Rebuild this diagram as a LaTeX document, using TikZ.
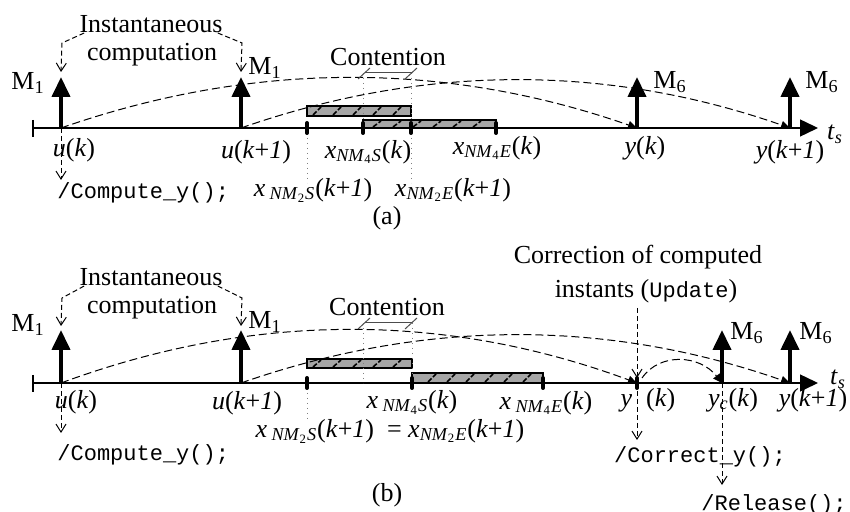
\documentclass[tikz,border=0pt]{standalone}
\usepackage{fontspec}
\setmainfont{Liberation Serif}
\setmonofont{Liberation Mono}
\usetikzlibrary{arrows.meta,calc}

\newcommand{\xnm}[3][]{\textit{x}#1\textsubscript{\textit{NM}\textsubscript{#2}\textit{#3}}}
\newcommand{\kk}{\textit{k}+\textit{1}}

\begin{document}
\begin{tikzpicture}[
  x=0.5pt, y=-0.5pt,
  lbl/.style={font=\fontsize{13}{15}\selectfont, inner sep=0pt},
  code/.style={font=\ttfamily\fontsize{11}{13}\selectfont, inner sep=0pt},
  axis/.style={line width=0.7pt, -{Triangle[length=9pt,width=8.5pt]}},
  marrow/.style={line width=2pt, -{Triangle[length=10pt,width=9pt]}},
  flow/.style={line width=0.5pt, dash pattern=on 4pt off 2pt, -{Triangle[length=4.5pt,width=4pt]}},
  note/.style={line width=0.5pt, dash pattern=on 2.5pt off 1.5pt, -{Straight Barb[length=4pt,width=5pt]}},
  guide/.style={line width=0.5pt, dotted, gray},
  bar/.style={draw, fill=black!35, line width=0.6pt},
  hatch/.style={line width=0.8pt, dash pattern=on 2.5pt off 1pt},
  tick/.style={line width=2pt, line cap=round},
  brace/.style={line width=0.5pt, black!70}
]
\useasboundingbox (0,0) rectangle (850,512);

% ---------------- (a) ----------------
\coordinate (a-o) at (33,128);
\coordinate (a-end) at (818,128);
\coordinate (a-uk) at (61,128);
\coordinate (a-uk1) at (241,128);
\coordinate (a-n2s) at (307,128);
\coordinate (a-n4s) at (363,128);
\coordinate (a-n2e) at (411,128);
\coordinate (a-n4e) at (496,128);
\coordinate (a-yk) at (637,128);
\coordinate (a-yk1) at (790,128);

% time axis
\draw[axis] (a-o) -- (a-end);
\draw[line width=0.7pt] ($(a-o)+(0,-8)$) -- ($(a-o)+(0,9)$);

% bars
\draw[bar] (307,106) rectangle (411,116);
\foreach \hx in {317,337,...,397} \draw[hatch] (\hx-4,115) -- (\hx+4,107);
\draw[bar] (363,120) rectangle (496,128);
\foreach \hx in {377,397,...,477} \draw[hatch] (\hx-4,127) -- (\hx+4,121);

% guides
\draw[guide] (363,73) -- (a-n4s);
\draw[guide] (411,73) -- (411,183);
\draw[guide] (a-n2s) -- (307,183);
\foreach \tx in {307,363,411,496} \draw[tick] (\tx,123) -- (\tx,133);

% messages
\draw[marrow] (a-uk) -- ++(0,-51);
\draw[marrow] (a-uk1) -- ++(0,-51);
\draw[marrow] (a-yk) -- ++(0,-51);
\draw[marrow] (a-yk1) -- ++(0,-51);
\node[lbl] (a-m1l) at (28,83) {M\textsubscript{1}};
\node[lbl] (a-m1r) at (265,68) {M\textsubscript{1}};
\node[lbl] (a-m6a) at (670,82) {M\textsubscript{6}};
\node[lbl] (a-m6b) at (822,82) {M\textsubscript{6}};

% flows
\draw[flow] (a-uk) .. controls +(192,-67) and +(-192,-67) .. (a-yk);
\draw[flow] (a-uk1) .. controls +(183,-64) and +(-183,-64) .. (a-yk1);

% notes
\node[lbl] (a-inst) at (151,24) {Instantaneous};
\node[lbl] (a-comp) at (152,55) {computation};
\draw[note] ($(a-inst.south west)+(5,0)$) -- (62,43) -- ($(a-uk)+(0,-56)$);
\draw[note] ($(a-inst.south east)+(-5,0)$) -- (242,43) -- ($(a-uk1)+(0,-56)$);
\node[lbl] (a-cont) at (388,57) {Contention};
\draw[brace] (365,73) -- (412,73);
\draw[brace] (358,79) -- (370,68);
\draw[brace] (405,79) -- (417,68);
\draw[note] (a-uk) -- ++(0,52);
\node[code, anchor=west] (a-code) at (57,193) {/Compute\_y();};

% labels
\node[lbl] (a-uk-l) at (74,150) {\textit{u}(\textit{k})};
\node[lbl] (a-uk1-l) at (256,152) {\textit{u}(\kk)};
\node[lbl] (a-n4s-l) at (368,152) {\xnm{4}{S}(\textit{k})};
\node[lbl] (a-n4e-l) at (497,148) {\xnm{4}{E}(\textit{k})};
\node[lbl] (a-n2s-l) at (313,190) {\xnm[\,]{2}{S}(\kk)};
\node[lbl] (a-n2e-l) at (453,190) {\xnm{2}{E}(\kk)};
\node[lbl] (a-yk-l) at (645,148) {\textit{y}(\textit{k})};
\node[lbl] (a-yk1-l) at (790,152) {\textit{y}(\kk)};
\node[lbl] (a-ts) at (835,134) {\textit{t}\textsubscript{\textit{s}}};
\node[lbl] (a-cap) at (387,218) {(a)};

% ---------------- (b) ----------------
\coordinate (b-o) at (33,383);
\coordinate (b-end) at (818,383);
\coordinate (b-uk) at (61,383);
\coordinate (b-uk1) at (241,383);
\coordinate (b-n2s) at (307,383);
\coordinate (b-n4s) at (412,383);
\coordinate (b-n4e) at (543,383);
\coordinate (b-yk) at (637,383);
\coordinate (b-yc) at (722,383);
\coordinate (b-yk1) at (790,383);

% time axis
\draw[axis] (b-o) -- (b-end);
\draw[line width=0.7pt] ($(b-o)+(0,-8)$) -- ($(b-o)+(0,9)$);

% bars
\draw[bar] (307,359) rectangle (412,368);
\foreach \hx in {317,337,...,397} \draw[hatch] (\hx-4,367) -- (\hx+4,360);
\draw[bar] (412,373) rectangle (543,383);
\foreach \hx in {432,451,...,528} \draw[hatch] (\hx-4,382) -- (\hx+4,374);

% guides
\draw[guide] (363,323) -- (363,383);
\draw[guide] (412,323) -- (b-n4s);
\draw[guide] (b-n2s) -- (307,420);
\foreach \tx in {307,412,543,637} \draw[tick] (\tx,378) -- (\tx,388);

% messages
\draw[marrow] (b-uk) -- ++(0,-53);
\draw[marrow] (b-uk1) -- ++(0,-53);
\draw[marrow] (b-yc) -- ++(0,-53);
\draw[marrow] (b-yk1) -- ++(0,-53);
\node[lbl] (b-m1l) at (28,325) {M\textsubscript{1}};
\node[lbl] (b-m1r) at (265,322) {M\textsubscript{1}};
\node[lbl] (b-m6a) at (747,333) {M\textsubscript{6}};
\node[lbl] (b-m6b) at (816,333) {M\textsubscript{6}};

% flows
\draw[flow] (b-uk) .. controls +(192,-71) and +(-192,-71) .. (b-yk);
\draw[flow] (b-uk1) .. controls +(183,-64) and +(-183,-64) .. (b-yk1);
\draw[flow] ($(b-yk)+(5,-5)$) .. controls +(18,-26) and +(-22,-28) .. (b-yc);

% notes
\node[lbl] (b-inst) at (151,277) {Instantaneous};
\node[lbl] (b-comp) at (152,308) {computation};
\draw[note] ($(b-inst.south west)+(5,0)$) -- (62,298) -- ($(b-uk)+(0,-57)$);
\draw[note] ($(b-inst.south east)+(-5,0)$) -- (242,298) -- ($(b-uk1)+(0,-57)$);
\node[lbl] (b-cont) at (387,307) {Contention};
\draw[brace] (365,323) -- (412,323);
\draw[brace] (358,329) -- (370,318);
\draw[brace] (405,329) -- (417,318);
\node[lbl] (b-corr1) at (638,257) {Correction of computed};
\node[lbl] (b-corr2) at (646,291) {instants ({\ttfamily\fontsize{11}{13}\selectfont Update})};
\draw[note] ($(b-yk)+(0,-75)$) -- ($(b-yk)+(0,-5)$);
\draw[note] (b-uk) -- ++(0,50);
\draw[note] (b-yk) -- ++(0,57);
\draw[note] (b-yc) -- ++(0,102);
\node[code, anchor=west] (b-code1) at (57,455) {/Compute\_y();};
\node[code] (b-code2) at (700,457) {/Correct\_y();};
\node[code] (b-code3) at (774,505) {/Release();};

% labels
\node[lbl] (b-uk-l) at (76,402) {\textit{u}(\textit{k})};
\node[lbl] (b-uk1-l) at (247,403) {\textit{u}(\kk)};
\node[lbl] (b-n4s-l) at (412,402) {\xnm[\,]{4}{S}(\textit{k})};
\node[lbl] (b-n4e-l) at (546,403) {\xnm[\,]{4}{E}(\textit{k})};
\node[lbl] (b-n2-l) at (390,431) {\xnm[\,]{2}{S}(\kk)\ \ = \xnm{2}{E}(\kk)};
\node[lbl] (b-yk-l) at (648,400) {\textit{y}\hspace{7pt}(\textit{k})};
\node[lbl] (b-yc-l) at (733,400) {\textit{y}\textsubscript{\textit{c}}(\textit{k})};
\node[lbl] (b-yk1-l) at (813,400) {\textit{y}(\kk)};
\node[lbl] (b-ts) at (838,379) {\textit{t}\textsubscript{\textit{s}}};
\node[lbl] (b-cap) at (387,495) {(b)};

\end{tikzpicture}
\end{document}
